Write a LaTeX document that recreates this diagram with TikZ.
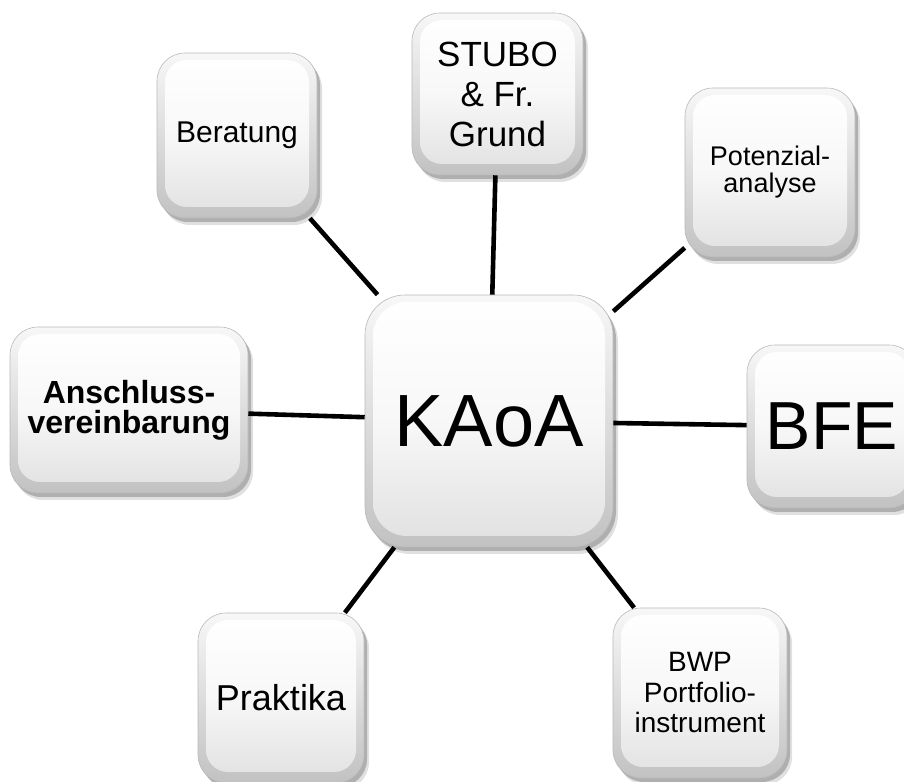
\documentclass[tikz,border=0pt]{standalone}
\usepackage{fontspec}
\setmainfont{Liberation Sans}
\usetikzlibrary{shadows}
\tikzset{
  tile/.style={
    rectangle, rounded corners=#1, inner sep=0pt, align=center,
    draw=gray!55, line width=0.6pt,
    top color=gray!6, bottom color=gray!48,
    drop shadow={shadow xshift=5pt, shadow yshift=-7pt, opacity=0.12, fill=black},
    drop shadow={shadow xshift=3pt, shadow yshift=-4pt, opacity=0.22, fill=black},
    path picture={
      \shade[rounded corners=#1-6pt, top color=white, bottom color=gray!24, middle color=gray!6]
        ([xshift=8pt,yshift=-7pt]path picture bounding box.north west) rectangle
        ([xshift=-8pt,yshift=11pt]path picture bounding box.south east);
    }
  },
  tile/.default=28pt,
  link/.style={line width=4.6pt, black}
}
\begin{document}
\begin{tikzpicture}[x=1pt,y=1pt]
\useasboundingbox (0,0) rectangle (904,781);
\node[tile=40pt, minimum width=248pt, minimum height=252pt,
      font=\fontsize{74}{80}\selectfont] (kaoa) at (489,360) {KAoA};
\node[tile, minimum width=160pt, minimum height=165pt,
      font=\fontsize{30}{34}\selectfont] (ber) at (237,645.5) {Beratung};
\node[tile, minimum width=171pt, minimum height=162pt,
      font=\fontsize{35}{40}\selectfont] (stubo) at (497.5,687) {STUBO\\ \& Fr.\\ Grund};
\node[tile, minimum width=170pt, minimum height=169pt,
      font=\fontsize{27}{27}\selectfont] (pot) at (770,608.5) {Potenzial-\\analyse};
\node[tile, minimum width=238pt, minimum height=166pt,
      font=\fontsize{32}{30}\selectfont\bfseries] (ans) at (129,371) {Anschluss-\\vereinbarung};
\node[tile, minimum width=170pt, minimum height=163pt,
      font=\fontsize{68}{72}\selectfont] (bfe) at (832,354.5) {BFE};
\node[tile, minimum width=166pt, minimum height=170pt,
      font=\fontsize{36}{40}\selectfont] (prak) at (281,83) {Praktika};
\node[tile, minimum width=174pt, minimum height=170pt,
      font=\fontsize{28}{30.5}\selectfont] (bwp) at (700,88) {BWP\\Portfolio-\\instrument};
\foreach \n in {ber,stubo,pot,ans,bfe,prak,bwp}
  \draw[link] (kaoa) -- (\n);
\end{tikzpicture}
\end{document}
